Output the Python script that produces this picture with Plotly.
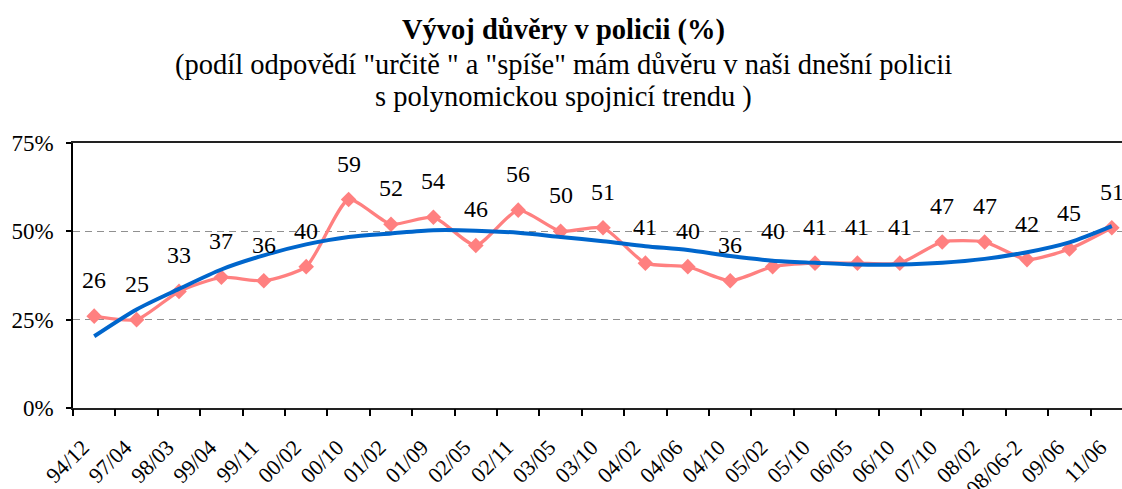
import plotly.graph_objects as go

categories = ["94/12", "97/04", "98/03", "99/04", "99/11", "00/02", "00/10", "01/02",
              "01/09", "02/05", "02/11", "03/05", "03/10", "04/02", "04/06", "04/10",
              "05/02", "05/10", "06/05", "06/10", "07/10", "08/02", "08/06-2", "09/06", "11/06"]
trust = [26, 25, 33, 37, 36, 40, 59, 52, 54, 46, 56, 50, 51, 41, 40, 36,
         40, 41, 41, 41, 47, 47, 42, 45, 51]
trend = [20.3, 27.9, 33.7, 39.2, 43.2, 46.3, 48.4, 49.4, 50.3, 50.2, 49.6, 48.4, 47.2,
         45.8, 44.7, 43.0, 41.7, 41.1, 40.6, 40.6, 41.1, 42.2, 44.1, 46.9, 51.5]
y_ticks = [0, 25, 50, 75]
y_tick_text = ["0%", "25%", "50%", "75%"]
title_lines = ["<b>Vývoj důvěry v policii (%)</b>",
               "(podíl odpovědí \"určitě \" a \"spíše\" mám důvěru v naši dnešní policii",
               "s polynomickou spojnicí trendu )"]

FONT = "Liberation Serif"
xs = list(range(len(categories)))
boundaries = [i - 0.5 for i in range(len(categories))]
x_range = [-0.5, 24.24]

fig = go.Figure()
fig.add_trace(go.Scatter(
    x=xs, y=trust, mode="lines+markers",
    line=dict(color="#FF8080", width=3.3, shape="spline", smoothing=0.6),
    marker=dict(symbol="diamond", size=12, color="#FF8080"),
    cliponaxis=False, showlegend=False, hoverinfo="skip"))
fig.add_trace(go.Scatter(
    x=xs, y=trend, mode="lines",
    line=dict(color="#0066CC", width=4, shape="spline", smoothing=0.8),
    cliponaxis=False, showlegend=False, hoverinfo="skip"))
fig.add_trace(go.Scatter(x=[0], y=[0], xaxis="x2", mode="markers",
                         marker=dict(opacity=0), showlegend=False, hoverinfo="skip"))

for i, v in enumerate(trust):
    fig.add_annotation(x=i, y=v, text=str(v), showarrow=False, yshift=36,
                       font=dict(family=FONT, size=24, color="black"))

plot_top, plot_bottom = 143, 408.5
for line, py in zip(title_lines, [29.5, 64.5, 96.5]):
    fig.add_annotation(x=0.468, xref="paper", y=(plot_bottom - py) / (plot_bottom - plot_top),
                       yref="paper", yanchor="middle", xanchor="center",
                       text=line, showarrow=False,
                       font=dict(family=FONT, size=28.5, color="black"))

fig.update_layout(
    width=1122, height=489,
    margin=dict(l=73, r=0, t=143, b=81, autoexpand=False),
    paper_bgcolor="white", plot_bgcolor="white",
    xaxis=dict(range=x_range, tickvals=[i - 0.27 for i in xs], ticktext=categories,
               tickangle=-45, ticks="", showgrid=False, zeroline=False,
               showline=True, linecolor="#222222", linewidth=1.5, mirror=True,
               tickfont=dict(family=FONT, size=22, color="black"),
               ticklabelstandoff=16, automargin=False),
    xaxis2=dict(range=x_range, overlaying="x", anchor="y", side="bottom",
                tickvals=boundaries, ticks="outside", ticklen=7, tickwidth=1.5,
                tickcolor="black", showticklabels=False, showgrid=False,
                zeroline=False, showline=False, automargin=False),
    yaxis=dict(range=[0, 75], tickvals=y_ticks, ticktext=y_tick_text,
               ticks="outside", ticklen=5, tickcolor="black", tickwidth=1.5,
               showline=True, linecolor="black", linewidth=1.5,
               showgrid=True, gridcolor="#909090", gridwidth=1, griddash="7px,5px",
               zeroline=False, automargin=False, ticklabelstandoff=8,
               tickfont=dict(family=FONT, size=23, color="black")),
)

fig.write_html("out.html", post_script="document.body.style.margin='0';",
               config={"displayModeBar": False})
